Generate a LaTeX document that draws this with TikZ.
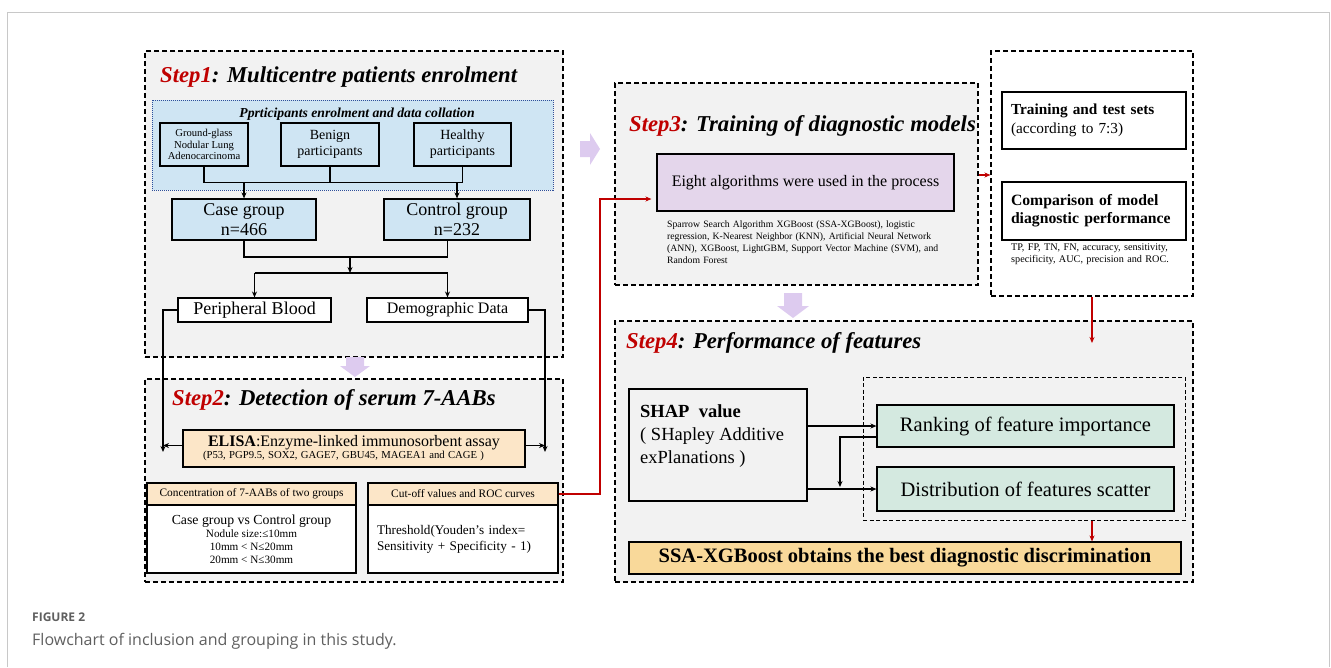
\documentclass[tikz,border=0pt]{standalone}
\usepackage{fontspec}
\setmainfont{Liberation Serif}
\newfontfamily\capfont{Open Sans}
\usetikzlibrary{arrows.meta, positioning}

\definecolor{panelgray}{HTML}{F2F2F2}
\definecolor{bluefill}{HTML}{CFE5F3}
\definecolor{dotblue}{HTML}{2E4F9A}
\definecolor{peach}{HTML}{FCE6C8}
\definecolor{gold}{HTML}{F9D99A}
\definecolor{mint}{HTML}{D4E9E0}
\definecolor{lilac}{HTML}{E4D6EB}
\definecolor{blockarrow}{HTML}{DDCBEF}
\definecolor{stepred}{HTML}{C00000}
\definecolor{framegray}{HTML}{C8C8C8}
\definecolor{capgray}{HTML}{5F5F5F}

\newcommand{\fsz}[2]{\fontsize{#1}{#2}\selectfont}

\begin{document}
\begin{tikzpicture}[x=1pt, y=-1pt,
  panel/.style={draw, dash pattern=on 5pt off 3pt, line width=1.1pt, fill=panelgray, inner sep=0},
  box/.style={draw, line width=1.1pt, inner sep=0, align=center},
  link/.style={line width=1.1pt, -{Stealth[length=6pt,width=5pt]}},
  redlink/.style={stepred, line width=1.4pt, -{Stealth[length=6pt,width=5pt]}},
  steptitle/.style={anchor=base west, inner sep=0, font=\bfseries\itshape\fsz{22.7}{26}},
  small/.style={anchor=north west, inner sep=0, align=left}]

  \useasboundingbox (0,0) rectangle (1331,667);
  \draw[framegray, line width=1pt] (7,667) -- (7,12) -- (1329,12) -- (1329,667);

  % Step 1
  \node[panel, minimum width=418, minimum height=306] (step1) at (354,204) {};
  \node[steptitle] (t1) at (160,82) {\textcolor{stepred}{Step1}: Multicentre patients enrolment};
  \node[draw=dotblue, densely dotted, line width=1pt, fill=bluefill, minimum width=401, minimum height=90, inner sep=0] (collate) at (352.5,145) {};
  \node[anchor=base, inner sep=0, font=\bfseries\itshape\fsz{13.7}{15}] (sub) at (357,117) {Pprticipants enrolment and data collation};
  \node[box, fill=bluefill, minimum width=88, minimum height=43, font=\fsz{10.6}{11.5}] (ggo) at (204,144.5) {Ground-glass\\Nodular Lung\\Adenocarcinoma};
  \node[box, fill=bluefill, minimum width=98, minimum height=43, font=\fsz{14}{16}] (benign) at (330,144.5) {Benign\\participants};
  \node[box, fill=bluefill, minimum width=97, minimum height=43, font=\fsz{14}{16}] (healthy) at (462.5,144.5) {Healthy\\participants};
  \node[box, fill=bluefill, minimum width=144, minimum height=41, font=\fsz{18}{20}] (case) at (244,219.5) {Case group\\n=466};
  \node[box, fill=bluefill, minimum width=146, minimum height=41, font=\fsz{18}{20}] (control) at (457,219.5) {Control group\\n=232};
  \node[box, fill=white, minimum width=153, minimum height=24, font=\fsz{18}{18}] (blood) at (254.5,310) {Peripheral Blood};
  \node[box, fill=white, minimum width=161, minimum height=24, font=\fsz{16}{16}] (demo) at (447.5,310) {Demographic Data};

  \draw[line width=1.1pt] (ggo.south) -- ++(0,16) -| (healthy.south);
  \draw[line width=1.1pt] (benign.south) -- (benign.south |- 0,182);
  \draw[link] (case.north |- 0,182) -- (case.north);
  \draw[link] (control.north |- 0,182) -- (control.north);
  \coordinate (mid) at (350,257);
  \coordinate (fork) at (350,273);
  \draw[line width=1.1pt] (case.south) |- (mid) -| (control.south -| demo.north);
  \draw[link] (mid) -- (fork);
  \draw[line width=1.1pt] (blood.north |- fork) -- (demo.north |- fork);
  \draw[link] (blood.north |- fork) -- (blood.north);
  \draw[link] (demo.north |- fork) -- (demo.north);

  % Step 2
  \node[panel, minimum width=418, minimum height=203] (step2) at (354,480.5) {};
  \node[steptitle] (t2) at (172,405) {\textcolor{stepred}{Step2}: Detection of serum 7-AABs};
  \node[box, fill=peach, minimum height=37, text width=302, inner xsep=20, align=left] (elisa) at (354,448.5) {\hspace*{5pt}\fsz{16}{16}\textbf{ELISA}:Enzyme-linked immunosorbent assay\\\fsz{10.7}{15}(P53, PGP9.5, SOX2, GAGE7, GBU45, MAGEA1 and CAGE )};
  \node[box, fill=peach, minimum width=209, minimum height=22, font=\fsz{11.4}{12}] (conchead) at (251.5,494) {Concentration of 7-AABs of two groups};
  \node[box, fill=white, minimum width=209, minimum height=68, font=\fsz{11.2}{13}] (concbody) at (251.5,539) {\fsz{13.8}{15}Case group vs Control group\\Nodule size:≤10mm\\10mm < N≤20mm\\20mm < N≤30mm};
  \node[box, fill=peach, minimum width=190, minimum height=22, font=\fsz{11.4}{12}] (cuthead) at (463,494) {Cut-off values and ROC curves};
  \node[box, fill=white, minimum height=68, text width=172, inner xsep=9, align=left, font=\fsz{13.2}{16}] (cutbody) at (463,539) {Threshold(Youden’s index=\\Sensitivity + Specificity - 1)};

  \coordinate (lfoot) at (163,452);
  \coordinate (rfoot) at (545,452);
  \draw[link] (blood.west) -| (lfoot);
  \draw[link] (demo.east) -| (rfoot);
  \draw[link] ([yshift=3pt]elisa.west) -- ([yshift=3pt]elisa.west -| lfoot);
  \draw[link] ([yshift=3pt]elisa.east) -- ([yshift=3pt]elisa.east -| rfoot);

  % Step 3
  \node[panel, minimum width=363, minimum height=202] (step3) at (796.5,184) {};
  \node[steptitle] (t3) at (629,131) {\textcolor{stepred}{Step3}: Training of diagnostic models};
  \node[box, fill=lilac, minimum width=297, minimum height=57, font=\fsz{16}{17}] (eight) at (805.5,182.5) {Eight algorithms were used in the process};
  \node[small, text width=300, font=\fsz{9.7}{12}] (algos) at (667,221) {Sparrow Search Algorithm XGBoost (SSA-XGBoost), logistic\\regression, K-Nearest Neighbor (KNN), Artificial Neural Network\\(ANN), XGBoost, LightGBM, Support Vector Machine (SVM), and\\Random Forest};

  \coordinate (bend) at (600,199);
  \draw[redlink] (cuthead.east) -| (bend) -- ([xshift=-5pt]eight.west |- bend);

  % evaluation
  \node[panel, fill=white, minimum width=202, minimum height=245] (evalbox) at (1092,173.5) {};
  \node[box, minimum height=57, text width=166, inner xsep=9, align=left, font=\fsz{15.3}{19}] (sets) at (1094,120.5) {\textbf{Training and test sets}\\(according to 7:3)};
  \node[box, minimum height=58, text width=166, inner xsep=9, align=left, font=\bfseries\fsz{15.7}{18}] (compare) at (1094,211) {Comparison of model\\diagnostic performance};
  \node[small, text width=180, font=\fsz{10.2}{12}] (metrics) at (1011,244) {TP, FP, TN, FN, accuracy, sensitivity,\\specificity, AUC, precision and ROC.};
  \draw[redlink] (step3.east |- 0,175) -- (evalbox.west |- 0,175);

  % Step 4
  \node[panel, minimum width=578, minimum height=261] (step4) at (904,451.5) {};
  \node[steptitle] (t4) at (626,348) {\textcolor{stepred}{Step4}: Performance of features};
  \node[box, fill=panelgray, minimum width=178, minimum height=112] (shap) at (718,445) {};
  \node[small, font=\fsz{18.5}{23}] (shaptext) at (640,404) {\textbf{SHAP\ \ value}\\( SHapley Additive\\exPlanations )};
  \node[panel, fill=none, dash pattern=on 4pt off 2.5pt, line width=1pt, minimum width=322, minimum height=143] (featgroup) at (1024,448.5) {};
  \node[box, fill=mint, minimum width=297, minimum height=42, font=\fsz{20.5}{21}] (rank) at (1025.5,426) {Ranking of feature importance};
  \node[box, fill=mint, minimum width=297, minimum height=44, font=\fsz{20.5}{21}] (scatter) at (1025.5,489) {Distribution of features scatter};
  \node[box, fill=gold, minimum width=552, minimum height=32, font=\bfseries\fsz{20.5}{21}] (best) at (905,558) {SSA-XGBoost obtains the best diagnostic discrimination};

  \coordinate (loop) at (840,487);
  \draw[link] (shap.east |- rank.west) -- (rank.west);
  \draw[link] (shap.east |- scatter.west) -- (scatter.west);
  \draw[link] ([yshift=-11pt]rank.west) -| (loop);
  \coordinate (drop) at (1092,343);
  \draw[redlink] (evalbox.south) -- (drop);
  \draw[redlink] (featgroup.south -| evalbox.south) -- (best.north -| evalbox.south);

  % block arrows
  \fill[blockarrow] (580,141) -- (590,141) -- (590,133) -- (600,149) -- (590,165) -- (590,157) -- (580,157) -- cycle;
  \fill[blockarrow] (346,357) -- (364,357) -- (364,366) -- (370,366) -- (355,377) -- (340,366) -- (346,366) -- cycle;
  \fill[blockarrow] (784,293) -- (802,293) -- (802,306) -- (809,306) -- (793,318) -- (777,306) -- (784,306) -- cycle;

  % caption
  \node[anchor=base west, inner sep=0, font=\capfont\bfseries\fsz{12}{13}, text=capgray] (fignum) at (32,621) {FIGURE 2};
  \node[anchor=base west, inner sep=0, font=\capfont\fsz{16}{19}, text=capgray] (caption) at (32,645) {Flowchart of inclusion and grouping in this study.};
\end{tikzpicture}
\end{document}
